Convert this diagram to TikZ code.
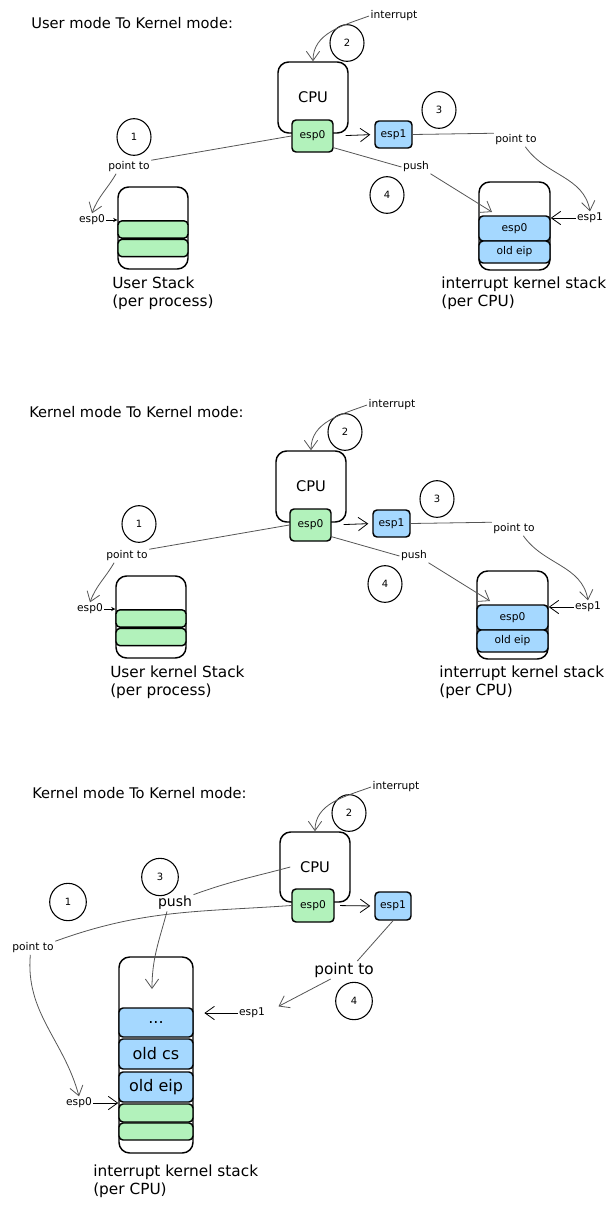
\documentclass[tikz,border=0pt]{standalone}
\usepackage{fontspec}
\setmainfont{DejaVu Sans}
\usetikzlibrary{arrows.meta, positioning, shapes.geometric, calc}

\definecolor{stackgreen}{HTML}{B2F2BB}
\definecolor{stackblue}{HTML}{A5D8FF}
\definecolor{linegray}{HTML}{555555}

\newcommand{\fsz}[2]{\fontsize{#1}{#2}\selectfont}

\tikzset{
  box/.style={draw, line width=1.1pt, rounded corners=8pt, inner sep=0pt},
  reg/.style={draw, line width=1.1pt, rounded corners=3pt, inner sep=0pt, font=\fsz{8}{10}},
  cell/.style={draw, line width=1.1pt, rounded corners=3pt, inner sep=0pt},
  num/.style={ellipse, draw, line width=0.8pt, minimum width=25.5pt, minimum height=27.5pt, inner sep=0pt, font=\fsz{7.5}{9}},
  lbl/.style={inner sep=1pt, font=\fsz{8}{10}},
  ttl/.style={inner sep=0pt, font=\fsz{11}{13}},
  stk/.style={inner sep=0pt, align=left, font=\fsz{11.5}{13.5}},
  conn/.style={draw=linegray, line width=0.6pt},
  arr/.style={conn, -{Straight Barb[length=7pt,width=10pt]}},
  tip/.style={draw=black, line width=0.6pt, -{Stealth[length=3pt,width=3pt]}},
}

\begin{document}
\begin{tikzpicture}[x=0.75pt, y=-0.75pt]
    \useasboundingbox (0,0) rectangle (615,1211);

    % user mode to kernel mode
    \node[ttl, anchor=west] (title1) at (31,23) {User mode To Kernel mode:};
    \node[lbl] (int1) at (394,16) {interrupt};
    \node[box, minimum width=52.5pt, minimum height=53.25pt, font=\fsz{11}{13}] (cpu1) at (313,97.5) {CPU};
    \node[reg, fill=stackgreen, minimum width=30.75pt, minimum height=24pt] (espa1) at (312.5,136) {esp0};
    \node[reg, fill=stackblue, minimum width=27.75pt, minimum height=20.25pt] (espb1) at (393.5,134.5) {esp1};

    \node[num] (n11) at (134,137) {1};
    \node[num] (n12) at (347,43) {2};
    \node[num] (n13) at (439,110) {3};
    \node[num] (n14) at (387,195) {4};

    \node[box, minimum width=52.5pt, minimum height=61.5pt] (ustack1) at (153,228) {};
    \node[cell, fill=stackgreen, minimum width=52.5pt, minimum height=13pt] (ug11) at (153,229.5) {};
    \node[cell, fill=stackgreen, minimum width=52.5pt, minimum height=13pt] (ug12) at (153,248) {};

    \node[box, minimum width=53.25pt, minimum height=66pt] (kstack1) at (514.5,226) {};
    \node[cell, fill=stackblue, minimum width=53.25pt, minimum height=18.75pt, font=\fsz{8}{10}] (kc11) at (514.5,228.5) {esp0};
    \node[cell, fill=stackblue, minimum width=53.25pt, minimum height=16.5pt, font=\fsz{8}{10}] (kc12) at (514.5,252) {old eip};

    \node[lbl] (pta1) at (129,167) {point to};
    \node[lbl] (ptb1) at (516,140) {point to};
    \node[lbl] (push1) at (416,167) {push};
    \node[lbl] (sa1) at (92,220) {esp0};
    \node[lbl] (sb1) at (590,218) {esp1};
    \node[stk, anchor=north west] (ul1) at (112,277) {User Stack\\(per process)};
    \node[stk, anchor=north west] (kl1) at (441,277) {interrupt kernel stack\\(per CPU)};
    \coordinate (pe1) at (492,212);

    \draw[arr] (int1.west) to[out=200, in=90] (cpu1.north);
    \draw[arr, draw=black, shorten <=9pt, shorten >=3pt] (espa1.east) -- (espb1.west);
    \draw[conn] (espa1.west) -- (pta1.north east);
    \draw[arr] ([xshift=7pt]pta1.south west) to[out=-120, in=70] (sa1.north);
    \draw[tip] (sa1.east) -- (sa1.east -| ustack1.west);
    \draw[conn] (espb1.east) -- (ptb1.north west);
    \draw[arr] ([xshift=7pt]ptb1.south) to[out=-55, in=100] (sb1.north);
    \draw[arr, draw=black] (sb1.west) -- (sb1.west -| kstack1.east);
    \draw[conn] ([yshift=3.75pt]espa1.south east) -- (push1.west);
    \draw[arr] (push1.south east) -- (pe1);

    % kernel mode to kernel mode
    \begin{scope}[shift={(-2,389)}]
    \node[ttl, anchor=west] (title2) at (31,23) {Kernel mode To Kernel mode:};
    \node[lbl] (int2) at (394,16) {interrupt};
    \node[box, minimum width=52.5pt, minimum height=53.25pt, font=\fsz{11}{13}] (cpu2) at (313,97.5) {CPU};
    \node[reg, fill=stackgreen, minimum width=30.75pt, minimum height=24pt] (espa2) at (312.5,136) {esp0};
    \node[reg, fill=stackblue, minimum width=27.75pt, minimum height=20.25pt] (espb2) at (393.5,134.5) {esp1};

    \node[num] (n21) at (141,135) {1};
    \node[num] (n22) at (347,43) {2};
    \node[num] (n23) at (439,110) {3};
    \node[num] (n24) at (387,195) {4};

    \node[box, minimum width=52.5pt, minimum height=61.5pt] (ustack2) at (153,228) {};
    \node[cell, fill=stackgreen, minimum width=52.5pt, minimum height=13pt] (ug21) at (153,229.5) {};
    \node[cell, fill=stackgreen, minimum width=52.5pt, minimum height=13pt] (ug22) at (153,248) {};

    \node[box, minimum width=53.25pt, minimum height=66pt] (kstack2) at (514.5,226) {};
    \node[cell, fill=stackblue, minimum width=53.25pt, minimum height=18.75pt, font=\fsz{8}{10}] (kc21) at (514.5,228.5) {esp0};
    \node[cell, fill=stackblue, minimum width=53.25pt, minimum height=16.5pt, font=\fsz{8}{10}] (kc22) at (514.5,252) {old eip};

    \node[lbl] (pta2) at (129,167) {point to};
    \node[lbl] (ptb2) at (516,140) {point to};
    \node[lbl] (push2) at (416,167) {push};
    \node[lbl] (sa2) at (92,220) {esp0};
    \node[lbl] (sb2) at (590,218) {esp1};
    \node[stk, anchor=north west] (ul2) at (112,277) {User kernel Stack\\(per process)};
    \node[stk, anchor=north west] (kl2) at (441,277) {interrupt kernel stack\\(per CPU)};
    \coordinate (pe2) at (492,212);

    \draw[arr] (int2.west) to[out=200, in=90] (cpu2.north);
    \draw[arr, draw=black, shorten <=9pt, shorten >=3pt] (espa2.east) -- (espb2.west);
    \draw[conn] (espa2.west) -- (pta2.north east);
    \draw[arr] ([xshift=7pt]pta2.south west) to[out=-120, in=70] (sa2.north);
    \draw[tip] (sa2.east) -- (sa2.east -| ustack2.west);
    \draw[conn] (espb2.east) -- (ptb2.north west);
    \draw[arr] ([xshift=7pt]ptb2.south) to[out=-55, in=100] (sb2.north);
    \draw[arr, draw=black] (sb2.west) -- (sb2.west -| kstack2.east);
    \draw[conn] ([yshift=3.75pt]espa2.south east) -- (push2.west);
    \draw[arr] (push2.south east) -- (pe2);
    \end{scope}

    % kernel mode to kernel mode, same stack
    \node[ttl, anchor=west] (title3) at (32,793) {Kernel mode To Kernel mode:};
    \node[lbl] (int3) at (396,787) {interrupt};
    \node[box, minimum width=52.5pt, minimum height=52.5pt, font=\fsz{11}{13}] (cpu3) at (315,867) {CPU};
    \node[reg, fill=stackgreen, minimum width=31.5pt, minimum height=24.75pt] (espa3) at (313,905.5) {esp0};
    \node[reg, fill=stackblue, minimum width=27pt, minimum height=21pt] (espb3) at (393,906) {esp1};

    \node[num, minimum width=27.5pt, minimum height=28pt] (n31) at (68,902) {1};
    \node[num] (n32) at (349,813) {2};
    \node[num, minimum width=27.5pt, minimum height=28pt] (n33) at (160,877) {3};
    \node[num, minimum width=27.5pt, minimum height=28pt] (n34) at (354,1001) {4};

    \node[box, minimum width=55.5pt, minimum height=147pt] (kstack3) at (156,1055) {};
    \node[cell, fill=stackblue, minimum width=55.5pt, minimum height=21.75pt, font=\fsz{12}{14}] (kc31) at (156,1022.5) {...};
    \node[cell, fill=stackblue, minimum width=55.5pt, minimum height=22.5pt, font=\fsz{12}{14}] (kc32) at (156,1054) {old cs};
    \node[cell, fill=stackblue, minimum width=55.5pt, minimum height=22.5pt, font=\fsz{12}{14}] (kc33) at (156,1087) {old eip};
    \node[cell, fill=stackgreen, minimum width=55.5pt, minimum height=13.5pt] (kc34) at (156,1113) {};
    \node[cell, fill=stackgreen, minimum width=55.5pt, minimum height=12.75pt] (kc35) at (156,1131.5) {};

    \node[lbl, font=\fsz{10.5}{12}] (push3) at (175,903) {push};
    \node[lbl] (pta3) at (33,948) {point to};
    \node[lbl, font=\fsz{11.5}{13}] (ptb3) at (344,970) {point to};
    \node[lbl] (sa3) at (79,1103) {esp0};
    \node[lbl] (sb3) at (252,1013) {esp1};
    \node[stk, anchor=north west] (kl3) at (93,1165) {interrupt kernel stack\\(per CPU)};
    \coordinate (pe3) at (152,989);

    \draw[arr] (int3.west) to[out=200, in=90] (cpu3.north);
    \draw[arr, draw=black, shorten <=4pt, shorten >=3pt] (espa3.east) -- (espb3.west);
    \draw[conn] ([xshift=8.25pt]cpu3.west) to[out=195, in=20] (push3.north east);
    \draw[arr] ([xshift=-6pt]push3.south) to[out=-105, in=90] (pe3);
    \draw[conn] (espa3.west) to[out=184, in=20] (pta3.north east);
    \draw[arr] ([xshift=-2pt]pta3.south) to[out=-95, in=105] (sa3.north);
    \draw[arr, draw=black] (sa3.east) -- (sa3.east -| kstack3.west);
    \draw[conn] (espb3.south) -- ([xshift=10pt]ptb3.north);
    \draw[arr] ([xshift=-10pt]ptb3.south) -- ([xshift=9pt]sb3.north east);
    \draw[arr, draw=black, shorten >=8pt] (sb3.west) -- (sb3.west -| kstack3.east);
\end{tikzpicture}
\end{document}
